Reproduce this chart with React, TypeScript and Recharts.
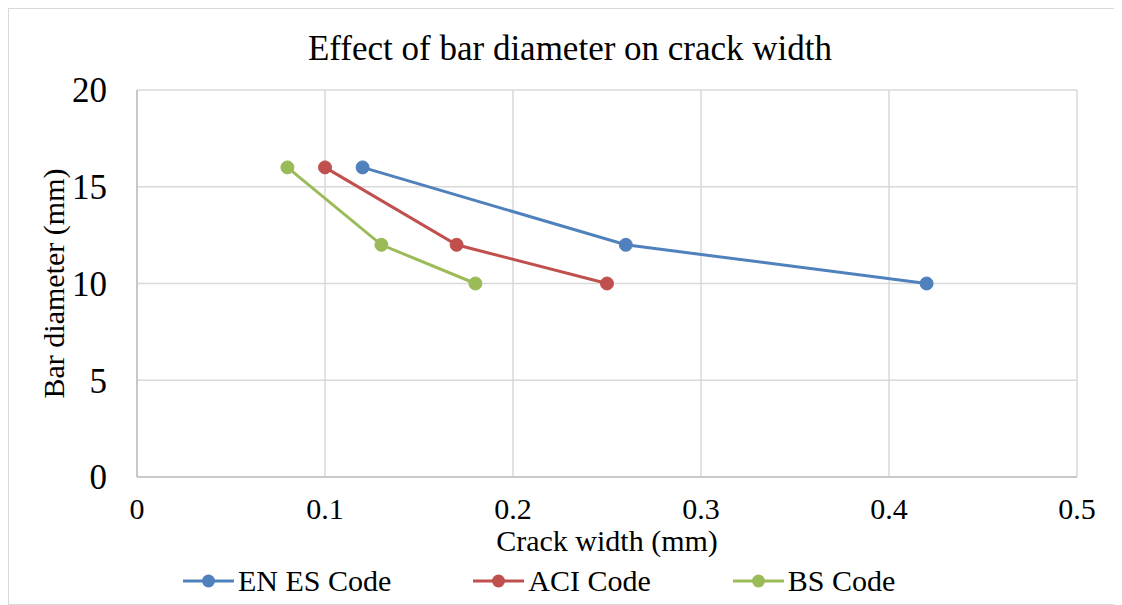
import React from 'react';
import { LineChart, Line, XAxis, YAxis, CartesianGrid } from 'recharts';

const xTicks = [0, 0.1, 0.2, 0.3, 0.4, 0.5];
const yTicks = [0, 5, 10, 15, 20];

const enEsCode = [
  { x: 0.12, y: 16 },
  { x: 0.26, y: 12 },
  { x: 0.42, y: 10 },
];
const aciCode = [
  { x: 0.1, y: 16 },
  { x: 0.17, y: 12 },
  { x: 0.25, y: 10 },
];
const bsCode = [
  { x: 0.08, y: 16 },
  { x: 0.13, y: 12 },
  { x: 0.18, y: 10 },
];

const series = [
  { name: 'EN ES Code', data: enEsCode, color: '#4f81bd' },
  { name: 'ACI Code', data: aciCode, color: '#c0504d' },
  { name: 'BS Code', data: bsCode, color: '#9bbb59' },
];

const font = '"Liberation Serif", "Times New Roman", serif';

const ChartLegend = () => (
  <div style={{ position: 'absolute', left: 174, top: 555, display: 'flex', gap: 82, fontFamily: font, fontSize: 30, color: '#000' }}>
    {series.map((s) => (
      <div key={s.name} style={{ display: 'flex', alignItems: 'center' }}>
        <svg width={51} height={16} style={{ marginRight: 4 }}>
          <line x1={0} y1={8} x2={51} y2={8} stroke={s.color} strokeWidth={3} />
          <circle cx={25.5} cy={8} r={6.5} fill={s.color} />
        </svg>
        <span style={{ fontFamily: font, lineHeight: '34px' }}>{s.name}</span>
      </div>
    ))}
  </div>
);

export default function App() {
  return (
    <div style={{ position: 'relative', width: 1110, height: 597, border: '1px solid #d9d9d9', boxSizing: 'border-box', fontFamily: font, background: '#fff' }}>
      <div style={{ position: 'absolute', top: 20, left: 0, width: 1122, textAlign: 'center', fontSize: 35, color: '#000' }}>
        Effect of bar diameter on crack width
      </div>
      <LineChart width={1108} height={595} margin={{ top: 81, right: 40, bottom: 0, left: 0 }}>
        <CartesianGrid stroke="#d9d9d9" strokeWidth={1.5} horizontal vertical />
        <XAxis
          type="number"
          dataKey="x"
          domain={[0, 0.5]}
          ticks={xTicks}
          tickLine={false}
          axisLine={{ stroke: '#bfbfbf', strokeWidth: 1.5 }}
          tick={{ fill: '#000', fontSize: 30, fontFamily: font }}
          tickMargin={15}
          height={127}
          label={{ value: 'Crack width (mm)', position: 'insideTop', offset: 53, fill: '#000', fontSize: 30, fontFamily: font }}
        />
        <YAxis
          type="number"
          dataKey="y"
          domain={[0, 20]}
          ticks={yTicks}
          tickLine={false}
          axisLine={{ stroke: '#bfbfbf', strokeWidth: 1.5 }}
          tick={{ fill: '#000', fontSize: 35, fontFamily: font }}
          tickMargin={24}
          width={128}
          label={{ value: 'Bar diameter (mm)', angle: -90, position: 'insideLeft', offset: 44, fill: '#000', fontSize: 30, fontFamily: font, style: { textAnchor: 'middle' } }}
        />
        {series.map((s) => (
          <Line
            key={s.name}
            data={s.data}
            dataKey="y"
            name={s.name}
            stroke={s.color}
            strokeWidth={3}
            dot={{ r: 6.5, fill: s.color, stroke: s.color, strokeWidth: 1 }}
            isAnimationActive={false}
          />
        ))}
      </LineChart>
      <ChartLegend />
    </div>
  );
}
